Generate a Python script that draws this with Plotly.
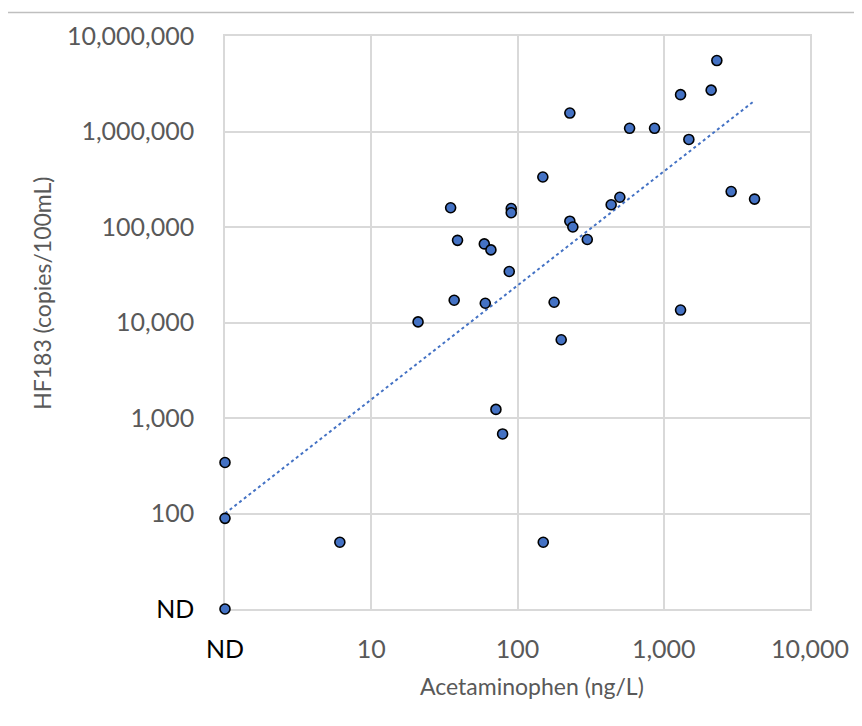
import plotly.graph_objects as go

# Data (ND plotted at axis minimum: x=1, y=10)
acetaminophen = [1, 1, 1, 6.1, 20.9, 2307, 2109, 1303, 228, 584, 865, 1485, 149, 2890, 4176,
                 34.9, 90.6, 90.6, 501, 437, 228, 239, 300, 38.9, 59.3, 65.8, 87.8, 36.9,
                 60.2, 178, 1303, 199, 71.2, 79.1, 150]
hf183 = [342, 89, 10, 50, 10150, 5530000, 2710000, 2430000, 1560000, 1080000, 1080000, 826000,
         334000, 235000, 196000, 159000, 156000, 141000, 205000, 171000, 115000, 100000, 74000,
         72500, 66500, 57600, 34200, 17100, 15900, 16300, 13500, 6600, 1230, 681, 50]

# Power trendline endpoints (as drawn)
trend_x = [1, 4176]
trend_y = [100, 2100000]

x_tickvals = [1, 10, 100, 1000, 10000]
x_ticktext = ['<span style="color:#000000">ND</span>', '10', '100', '1,000', '10,000']
y_tickvals = [10, 100, 1000, 10000, 100000, 1000000, 10000000]
y_ticktext = ['<span style="color:#000000">ND</span>', '100', '1,000', '10,000', '100,000',
              '1,000,000', '10,000,000']

x_title = "Acetaminophen (ng/L)"
y_title = "HF183 (copies/100mL)"

FONT = "Lato, Calibri, 'Open Sans', sans-serif"
GRID = "#D9D9D9"
TXT = "#595959"

fig = go.Figure()
fig.add_trace(go.Scatter(
    x=trend_x, y=trend_y, mode="lines",
    line=dict(color="#4472C4", width=2, dash="dot"),
    showlegend=False, hoverinfo="skip"))
fig.add_trace(go.Scatter(
    x=acetaminophen, y=hf183, mode="markers",
    marker=dict(size=10, color="#4472C4", line=dict(color="#000000", width=1.6)),
    cliponaxis=False, showlegend=False))

fig.update_layout(
    width=862, height=726,
    margin=dict(l=217, r=60, t=25, b=125),
    paper_bgcolor="white", plot_bgcolor="white",
    font=dict(family=FONT, color=TXT),
    shapes=[dict(type="line", xref="paper", yref="paper",
                 x0=-0.373, x1=1.09, y0=1.041, y1=1.041,
                 line=dict(color="#BFBFBF", width=1.5))],
    annotations=[
        dict(text=x_title, xref="paper", yref="paper", x=0.525, y=-0.135,
             xanchor="center", yanchor="middle", showarrow=False,
             font=dict(size=23, color=TXT, family=FONT)),
        dict(text=y_title, xref="paper", yref="paper", x=-0.3128, y=0.55,
             xanchor="center", yanchor="middle", showarrow=False, textangle=-90,
             font=dict(size=23, color=TXT, family=FONT)),
    ],
)
fig.update_xaxes(
    type="log", range=[0, 4],
    tickvals=x_tickvals, ticktext=x_ticktext,
    tickfont=dict(size=25, color=TXT, family=FONT),
    showgrid=True, gridcolor=GRID, gridwidth=1.5,
    showline=True, linecolor=GRID, linewidth=1.5, mirror=True,
    zeroline=False, ticks="", ticklabelstandoff=17, layer="below traces",
)
fig.update_yaxes(
    type="log", range=[1, 7],
    tickvals=y_tickvals, ticktext=y_ticktext,
    tickfont=dict(size=25, color=TXT, family=FONT),
    showgrid=True, gridcolor=GRID, gridwidth=1.5,
    showline=True, linecolor=GRID, linewidth=1.5, mirror=True,
    zeroline=False, ticks="", ticklabelstandoff=24, layer="below traces",
)

fig.write_html("out.html")
